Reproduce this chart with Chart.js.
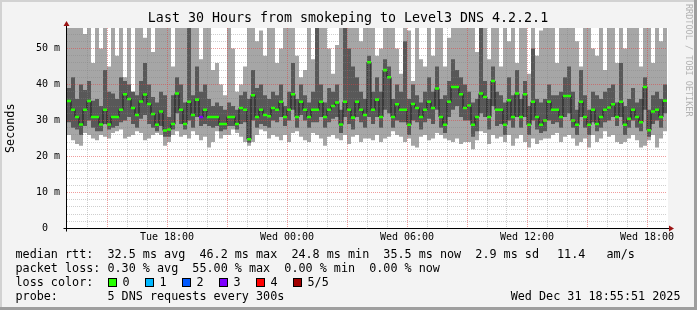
<!DOCTYPE html>
<html>
<head>
<meta charset="utf-8">
<script src="https://cdn.jsdelivr.net/npm/chart.js@4/dist/chart.umd.min.js"></script>
<style>
html, body { margin: 0; padding: 0; background: #f3f3f3; }
canvas { display: block; }
</style>
</head>
<body>
<canvas id="smokeChart" width="697" height="310"></canvas>
<script>
const chartTitle = "Last 30 Hours from smokeping to Level3 DNS 4.2.2.1";
const yAxisTitle = "Seconds";
const watermark = "RRDTOOL / TOBI OETIKER";
const stamp = "Wed Dec 31 18:55:51 2025";

const startClock = 13;   // clock hour at the left edge
const spanHours = 30;
const stepHours = 0.2;   // one column = 12 minutes

const xTickHours = [5, 11, 17, 23, 29];
const xTickLabels = ["Tue 18:00", "Wed 00:00", "Wed 06:00", "Wed 12:00", "Wed 18:00"];
const yTicks = [0, 10, 20, 30, 40, 50];
const yTickLabels = ["0  ", "10 m", "20 m", "30 m", "40 m", "50 m"];

// sorted pings per column (ms), 60 = above the top of the graph
const lo = [
  26.0,24.5,23.5,23.0,26.5,26.0,25.0,24.5,26.0,25.5,25.0,26.5,27.0,27.5,25.0,25.5,26.0,27.0,26.5,24.5,25.0,26.0,26.5,26.0,23.0,
  24,26,27,25.5,26,25,27,26,24.5,25.5,22.5,24,27,25,26,26,27.5,26.5,25.5,24,23,24,26,27.5,27,
  25,26,25.5,24.5,26,24,26.5,27,25.5,24.5,24,26.5,26,25,23,25.5,26,25,24.5,26,23.5,25.5,26,24,25,
  25,24.5,26,24,25,25.5,27,26,25.5,24,25,23,22.5,25.5,26,24.5,25,26.5,26,25,24.5,24,25,23.5,24,
  24,22,24.5,27,26.5,23.5,26,25,25.5,24,26,23,25,26,24,22.5,25,23.5,24.5,25,25,26,26.5,24,25.5,
  26,25,23,24,25,22.5,26,24,25,27,25.5,26,24,23.5,24,25,26,24.5,22.5,23,24.5,26,22.5,25,27
];
const q1 = [
  29.5,28.0,27.5,26.0,28.5,30.0,28.0,27.0,27.0,29.0,27.5,28.0,28.5,29.5,30.0,31.0,29.0,28.0,30.5,31.5,29.0,28.0,27.0,28.5,25.5,
  25.5,27.5,32,29,27.5,30,28,31,28.5,29,28.5,28,28.5,27,27.5,28.5,28.5,27.5,29,29.5,23.8,30,28,29,28.5,
  28,30,29.5,31,28.5,30,33,28,31.5,30,28,29.5,29.5,31,28,29.5,30.5,31,26.5,31,29,27.5,31,29.5,28,
  31,29,31,28,33,32,28,30,29.5,29.5,26,30,29.5,27.5,29.5,30.5,29,33,28,26.5,31,33,34,31,30,
  30,25.5,27,32,31,27.5,34,28.5,29,26,30,28,31,28,31,26,30,27.5,26.5,27,30,29,29.5,28,31,
  32,28,26,31,28,26,29.5,27,28,29.5,30,31,28.5,31,26,28,30,28,27,33,25.5,29,30,28,32
];
const med = [
  35.4,33.0,31.0,28.9,33.0,35.4,31.0,31.0,28.9,33.0,28.9,31.0,31.0,33.0,37.3,36.0,33.5,31.5,35.3,37.2,34.6,31.8,28.8,32.5,27.2,
  27.5,29.0,37.5,33.0,29.0,35.2,31.5,35.8,31.0,33.0,31.0,31.0,31.0,29.0,29.0,31.0,31.0,29.0,33.5,33.0,24.8,37.0,31.0,33.0,31.5,
  31.2,33.5,33.0,35.2,31.0,33.0,37.3,31.0,35.2,33.0,31.0,33.0,33.0,35.2,31.0,33.0,34.0,35.0,28.9,35.2,33.0,30.8,35.2,33.0,31.5,
  46.2,33.0,35.8,31.0,44.0,42.0,31.0,34.5,33.0,33.0,28.8,34.6,33.5,31.0,33.0,35.2,33.5,38.9,31.0,28.8,35.2,39.3,39.3,37.3,33.5,
  34.2,28.8,31.0,37.5,36.5,31.0,41.0,33.0,33.0,28.8,35.6,31.0,37.5,31.0,37.3,28.8,35.2,31.0,28.8,30.0,35.2,33.0,33.0,31.0,36.8,
  36.8,30.0,28.8,35.2,31.0,28.8,33.0,29.0,31.0,33.0,33.6,34.5,31.0,35.2,28.8,30.5,33.0,31.0,29.5,39.3,27.3,32.5,33.0,31.0,35.5
];
const q3 = [
  39.0,42.0,36.0,40.0,38.5,41.0,35.5,36.0,34.0,44.0,38.0,37.5,36.0,42.0,41.0,40.0,38.0,37.0,41.0,46.0,40.0,36.5,35.0,38.0,37.0,
  31,37,42,40,35,60,37,45,38,40,36,34,35,34,33,35,34,33,37,38,36,44,39,40,37,
  36,38,37,40,34,38,46,36,40,37,35,38,57,40,35,39,38,40,33,60,50,45,42,38,36,
  48,38,42,38,47,45,36,40,38,52,36,40,37,35,38,42,38,45,36,37,41,47,44,42,40,
  38,35,36,60,41,36,45,38,37,35,42,37,44,36,41,34,50,36,35,36,40,37,37,38,42,
  45,38,33,44,37,33,38,37,36,38,39,40,35,46,34,36,39,35,36,42,33,37,38,36,40
];
const hi = [
  60,60,60,60,54,60,46,60,50,60,45,60,48,60,42,60,38,60,60,53,60,49,60,60,60,
  60,45,60,60,60,60,60,60,47,60,60,44,46,40,37,60,50,38,40,45,60,60,52,55,48,
  60,60,46,50,60,60,60,48,42,44,60,47,60,60,60,50,43,51,60,60,60,60,60,52,60,
  60,60,48,50,60,60,60,50,43,60,55,41,60,47,45,60,48,60,60,45,53,60,60,60,60,
  60,60,49,60,60,47,60,60,45,60,52,60,46,60,60,43,60,48,55,60,60,60,46,60,60,
  60,60,52,45,60,60,50,48,60,44,60,60,46,60,50,60,60,60,45,60,60,46,60,52,60
];
// pings lost per column
const loss = [
  0,0,0,0,0,0,0,0,0,0,0,0,0,0,0,0,0,0,0,0,0,0,0,0,0,
  0,0,0,0,0,0,0,0,3,0,0,0,0,0,0,0,0,0,0,0,0,0,0,0,0,
  0,0,0,0,0,0,0,0,0,0,0,0,0,0,0,0,0,0,0,0,0,0,0,0,0,
  0,0,0,0,0,0,0,0,0,0,0,0,0,0,0,0,0,0,0,0,0,0,0,0,0,
  0,0,0,0,0,0,0,0,0,0,0,0,0,0,0,0,0,0,0,0,0,0,0,0,0,
  0,0,0,0,0,0,0,0,0,0,0,0,0,0,0,0,0,0,0,0,0,0,0,0,0
];

const lossLabels = ["0", "1", "2", "3", "4", "5/5"];
const lossColors = ["#26ff00", "#00b8ff", "#0059ff", "#7e00ff", "#ff0000", "#a10000"];

const statLines = [
  { y: 258, parts: [[15.5, "median rtt:  32.5 ms avg  46.2 ms max  24.8 ms min  35.5 ms now  2.9 ms sd"], [557, "11.4   am/s"]] },
  { y: 272, parts: [[15.5, "packet loss: 0.30 % avg  55.00 % max  0.00 % min  0.00 % now"]] },
  { y: 286, parts: [[15.5, "loss color:"]] },
  { y: 300, parts: [[15.5, "probe:       5 DNS requests every 300s"]] }
];

const monoFont = "'DejaVu Sans Mono', 'Liberation Mono', monospace";
const majorGrid = "rgba(225, 60, 60, 0.5)";
const minorGrid = "rgba(130, 130, 130, 0.38)";

const xs = med.map((_, i) => (i + 0.5) * stepHours);
function floating(a, b) {
  return xs.map((x, i) => ({ x: x, y: [a[i], b[i]] }));
}
const barCommon = {
  type: "bar",
  grouped: false,
  barPercentage: 1,
  categoryPercentage: 1,
  borderWidth: 0,
  inflateAmount: 0
};

const rrdFrame = {
  id: "rrdFrame",
  beforeDraw(chart) {
    const { ctx, chartArea: a } = chart;
    ctx.save();
    ctx.fillStyle = "#f3f3f3";
    ctx.fillRect(0, 0, chart.width, chart.height);
    ctx.fillStyle = "#ffffff";
    ctx.fillRect(a.left, a.top, a.right - a.left + 1, a.bottom - a.top);
    ctx.restore();
  },
  afterDraw(chart) {
    const { ctx, chartArea: a } = chart;
    const x0 = chart.scales.x.getPixelForValue(0) - 0.5;
    const y0 = chart.scales.y.getPixelForValue(0);
    ctx.save();

    // axes with arrows
    ctx.strokeStyle = "#000";
    ctx.lineWidth = 1;
    ctx.beginPath();
    ctx.moveTo(x0, y0 + 3);
    ctx.lineTo(x0, a.top - 2);
    ctx.moveTo(x0 - 3, y0);
    ctx.lineTo(a.right + 3, y0);
    ctx.stroke();
    ctx.fillStyle = "#9b1414";
    ctx.beginPath();
    ctx.moveTo(x0 - 3, a.top - 2);
    ctx.lineTo(x0 + 3, a.top - 2);
    ctx.lineTo(x0, a.top - 7);
    ctx.closePath();
    ctx.fill();
    ctx.beginPath();
    ctx.moveTo(a.right + 2, y0 - 3);
    ctx.lineTo(a.right + 2, y0 + 3);
    ctx.lineTo(a.right + 7, y0);
    ctx.closePath();
    ctx.fill();

    // title
    ctx.fillStyle = "#000";
    ctx.font = "13.3px " + monoFont;
    ctx.textAlign = "center";
    ctx.textBaseline = "middle";
    ctx.fillText(chartTitle, 348, 18.5);

    // vertical axis title
    ctx.font = "11.75px " + monoFont;
    ctx.save();
    ctx.translate(10.5, (a.top + a.bottom) / 2);
    ctx.rotate(-Math.PI / 2);
    ctx.fillText(yAxisTitle, 0, 0);
    ctx.restore();

    // watermark
    ctx.save();
    ctx.fillStyle = "#b2b2b2";
    ctx.font = "8.5px " + monoFont;
    ctx.translate(688, 4);
    ctx.rotate(Math.PI / 2);
    ctx.textAlign = "left";
    ctx.fillText(watermark, 0, 0);
    ctx.restore();

    // statistics lines
    ctx.textAlign = "left";
    ctx.textBaseline = "alphabetic";
    ctx.font = "11.75px " + monoFont;
    statLines.forEach(line => {
      line.parts.forEach(p => ctx.fillText(p[1], p[0], line.y));
    });

    // loss colour boxes
    lossLabels.forEach((lab, i) => {
      const bx = 108.5 + i * 37;
      ctx.fillStyle = lossColors[i];
      ctx.fillRect(bx, 278.5, 8, 8);
      ctx.strokeStyle = "#000";
      ctx.strokeRect(bx, 278.5, 8, 8);
      ctx.fillStyle = "#000";
      ctx.fillText(lab, bx + 14, 286);
    });

    ctx.textAlign = "right";
    ctx.fillText(stamp, 680.5, 300);

    // 3d frame
    ctx.fillStyle = "#d2d2d2";
    ctx.fillRect(0, 0, chart.width, 2);
    ctx.fillRect(0, 0, 2, chart.height);
    ctx.fillStyle = "#9e9e9e";
    ctx.fillRect(0, chart.height - 3, chart.width, 3);
    ctx.fillRect(chart.width - 3, 0, 3, chart.height);
    ctx.restore();
  }
};

new Chart(document.getElementById("smokeChart").getContext("2d"), {
  data: {
    datasets: [
      Object.assign({}, barCommon, { label: "median", data: xs.map((x, i) => ({ x: x, y: [med[i] - 0.35, med[i] + 0.35] })), backgroundColor: loss.map(l => lossColors[l]), order: 1 }),
      { type: "line", label: "median step", data: xs.map((x, i) => ({ x: x, y: med[i] })), stepped: "middle", borderColor: "#1c1c1c", borderWidth: 1, pointRadius: 0, fill: false, order: 1.5 },
      Object.assign({}, barCommon, { label: "inner", data: floating(q1, q3), backgroundColor: "#585858", order: 2 }),
      Object.assign({}, barCommon, { label: "outer", data: floating(lo, hi), backgroundColor: "#a6a6a6", order: 3 })
    ]
  },
  options: {
    responsive: false,
    animation: false,
    devicePixelRatio: 1,
    layout: { padding: { left: 0, right: 30, top: 28, bottom: 0 } },
    plugins: { legend: { display: false }, tooltip: { enabled: false }, title: { display: false } },
    scales: {
      x: {
        type: "linear",
        min: 0,
        max: spanHours,
        offset: false,
        afterFit: s => { s.height = 81.5; },
        grid: {
          offset: false,
          z: 1,
          drawTicks: false,
          color: c => {
            const h = c.tick.value;
            if (h <= 0 || h >= spanHours) return "rgba(0,0,0,0)";
            return (h + startClock) % 3 === 0 ? majorGrid : minorGrid;
          }
        },
        border: { display: false, dash: [1, 1] },
        ticks: {
          stepSize: 1,
          maxTicksLimit: 100,
          autoSkip: false,
          maxRotation: 0,
          minRotation: 0,
          padding: 3,
          color: "#000",
          font: { family: monoFont, size: 10 },
          callback: v => {
            const k = xTickHours.indexOf(v);
            return k >= 0 ? xTickLabels[k] : "";
          }
        }
      },
      y: {
        min: 0,
        max: 55.7,
        afterFit: s => { s.width = 67; },
        grid: {
          z: 1,
          drawTicks: false,
          color: c => {
            const v = c.tick.value;
            if (v === 0) return "rgba(0,0,0,0)";
            return v % 10 === 0 ? majorGrid : minorGrid;
          }
        },
        border: { display: false, dash: [1, 1] },
        ticks: {
          stepSize: 2,
          maxTicksLimit: 100,
          autoSkip: false,
          includeBounds: false,
          padding: 7,
          color: "#000",
          font: { family: monoFont, size: 10 },
          callback: v => {
            const k = yTicks.indexOf(v);
            return k >= 0 ? yTickLabels[k] : "";
          }
        }
      }
    }
  },
  plugins: [rrdFrame]
});
</script>
</body>
</html>
